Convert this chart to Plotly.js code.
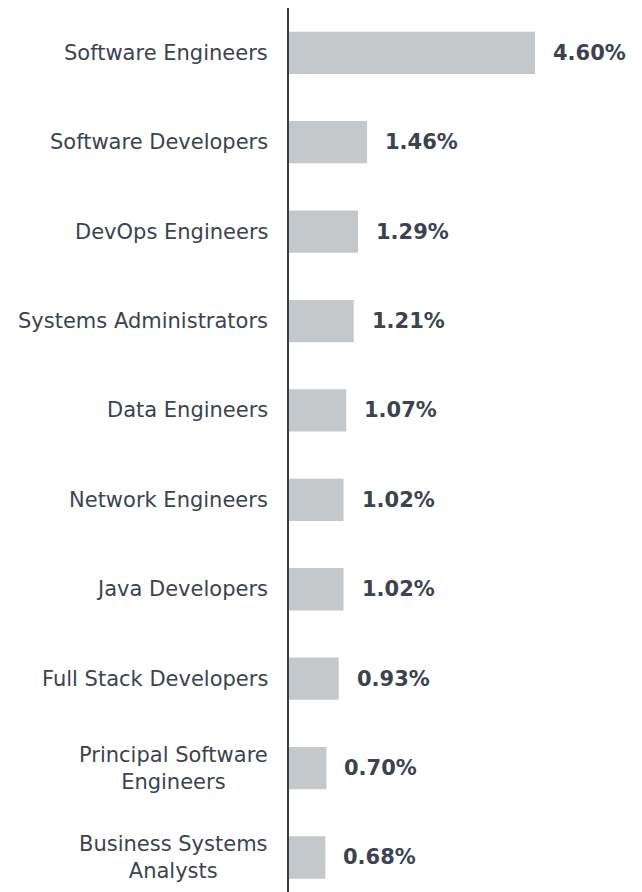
<!DOCTYPE html>
<html>
<head>
<meta charset="utf-8">
<script src="https://cdn.plot.ly/plotly-3.0.1.min.js"></script>
<style>html,body{margin:0;padding:0;background:#fff;}</style>
</head>
<body>
<div id="chart" style="width:642px;height:892px;"></div>
<script>
const categories = [
  "Software Engineers",
  "Software Developers",
  "DevOps Engineers",
  "Systems Administrators",
  "Data Engineers",
  "Network Engineers",
  "Java Developers",
  "Full Stack Developers",
  "Principal Software<br>Engineers",
  "Business Systems<br>Analysts"
];
const values = [4.60, 1.46, 1.29, 1.21, 1.07, 1.02, 1.02, 0.93, 0.70, 0.68];
const valueLabels = ["4.60%", "1.46%", "1.29%", "1.21%", "1.07%", "1.02%", "1.02%", "0.93%", "0.70%", "0.68%"];

const textColor = "#3b4350";
const barColor = "#c5c8cb";

const trace = {
  type: "bar",
  orientation: "h",
  x: values,
  y: categories,
  marker: {color: barColor, line: {width: 0}},
  hoverinfo: "none"
};

const annotations = [];
categories.forEach((c, i) => {
  annotations.push({
    xref: "paper", yref: "y", x: 0, y: c,
    text: c, showarrow: false, xanchor: "right", yanchor: "middle",
    align: "center", xshift: -19,
    font: {family: "DejaVu Sans, Verdana, sans-serif", size: 21, color: textColor}
  });
  annotations.push({
    xref: "x", yref: "y", x: values[i], y: c,
    text: "<b>" + valueLabels[i] + "</b>", showarrow: false, xanchor: "left", yanchor: "middle",
    xshift: 16,
    font: {family: "DejaVu Sans, Verdana, sans-serif", size: 21, color: textColor}
  });
});

const layout = {
  width: 642, height: 892,
  margin: {l: 289, r: 0, t: 8, b: 0, pad: 0},
  paper_bgcolor: "#ffffff", plot_bgcolor: "#ffffff",
  showlegend: false,
  bargap: 0.527,
  xaxis: {range: [0, 6.6], showgrid: false, zeroline: false, showticklabels: false, ticks: "", showline: false, fixedrange: true},
  yaxis: {
    type: "category", categoryorder: "array", categoryarray: categories,
    range: [9.386, -0.501],
    showgrid: false, zeroline: false, showticklabels: false, ticks: "",
    showline: true, linecolor: "#333d48", linewidth: 2, fixedrange: true
  },
  annotations: annotations
};

Plotly.newPlot("chart", [trace], layout, {staticPlot: true, displayModeBar: false});
</script>
</body>
</html>
